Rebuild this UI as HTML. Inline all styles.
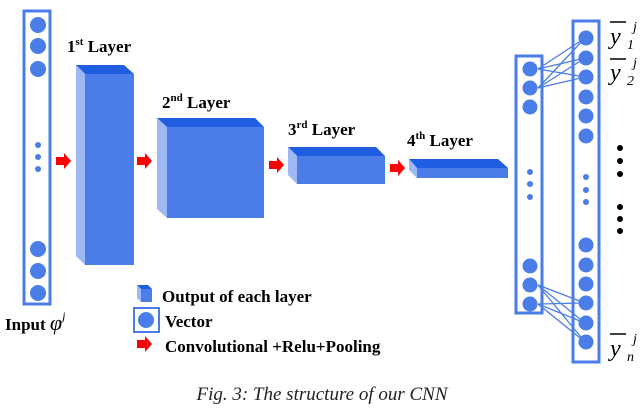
<!DOCTYPE html>
<html><head><style>body{margin:0;background:#fff}svg{display:block}</style></head><body>
<svg width="644" height="416" viewBox="0 0 644 416" xmlns="http://www.w3.org/2000/svg" font-family="Liberation Serif, serif">
<defs>
<g id="arr"><polygon points="0,-4 8,-4 8,-8 15,0 8,8 8,4 0,4" fill="#f00"/></g>
</defs>
<!-- input column -->
<rect x="24" y="11" width="26" height="293" fill="none" stroke="#4a7de8" stroke-width="3"/>
<g fill="#4a7de8">
<circle cx="38" cy="25" r="8"/><circle cx="38" cy="46" r="8"/><circle cx="38" cy="69" r="8"/>
<circle cx="38" cy="249" r="8"/><circle cx="38" cy="271" r="8"/><circle cx="38" cy="293" r="8"/>
<circle cx="38" cy="145" r="3"/><circle cx="38" cy="157" r="3"/><circle cx="38" cy="169" r="3"/>
</g>
<!-- arrows -->
<use href="#arr" x="56" y="161"/><use href="#arr" x="137" y="161"/><use href="#arr" x="269" y="165"/><use href="#arr" x="390" y="168"/>
<!-- layer 1 -->
<polygon points="76,65 124,65 134,74 85,74" fill="#1f5ee0"/>
<polygon points="76,65 85,74 85,265 76,256" fill="#9db8f2"/>
<rect x="85" y="74" width="49" height="191" fill="#4a7de8"/>
<!-- layer 2 -->
<polygon points="157,118 255,118 264,127 167,127" fill="#1f5ee0"/>
<polygon points="157,118 167,127 167,218 157,209" fill="#9db8f2"/>
<rect x="167" y="127" width="97" height="91" fill="#4a7de8"/>
<!-- layer 3 -->
<polygon points="288,147 376,147 385,156 297,156" fill="#1f5ee0"/>
<polygon points="288,147 297,156 297,184 288,175" fill="#9db8f2"/>
<rect x="297" y="156" width="88" height="28" fill="#4a7de8"/>
<!-- layer 4 -->
<polygon points="409,159 498,159 508,168 417,168" fill="#1f5ee0"/>
<polygon points="409,159 417,168 417,178 409,170" fill="#9db8f2"/>
<rect x="417" y="168" width="91" height="10" fill="#4a7de8"/>
<!-- labels -->
<g font-weight="bold" font-size="17" fill="#000">
<text x="67" y="52">1<tspan font-size="11" dy="-7">st</tspan><tspan dy="7"> Layer</tspan></text>
<text x="162" y="108">2<tspan font-size="11" dy="-7">nd</tspan><tspan dy="7">  Layer</tspan></text>
<text x="288" y="135">3<tspan font-size="11" dy="-7">rd</tspan><tspan dy="7">  Layer</tspan></text>
<text x="407" y="146">4<tspan font-size="11" dy="-7">th</tspan><tspan dy="7">  Layer</tspan></text>
<text x="5" y="330">Input <tspan font-style="italic" font-weight="normal" font-size="22">φ</tspan><tspan font-style="italic" font-weight="normal" font-size="12" dy="-10">j</tspan></text>
<text x="162" y="302">Output of each layer</text>
<text x="165" y="327">Vector</text>
<text x="165" y="352">Convolutional +Relu+Pooling</text>
</g>
<!-- legend icons -->
<polygon points="137,285 148,285 152,289 141,289" fill="#1f5ee0"/>
<polygon points="137,285 141,289 141,302 137,298" fill="#9db8f2"/>
<rect x="141" y="289" width="11" height="13" fill="#4a7de8"/>
<rect x="134" y="308" width="25" height="24" fill="none" stroke="#4a7de8" stroke-width="2"/>
<circle cx="146" cy="320" r="8" fill="#4a7de8"/>
<use href="#arr" x="137" y="344"/>
<!-- right columns -->
<rect x="516" y="56" width="26" height="257" fill="none" stroke="#4a7de8" stroke-width="3"/>
<rect x="573" y="21" width="26" height="341" fill="none" stroke="#4a7de8" stroke-width="3"/>
<g stroke="#4a7de8" stroke-width="1.3">
<line x1="538" y1="69" x2="585" y2="38"/><line x1="538" y1="69" x2="585" y2="58"/><line x1="538" y1="69" x2="585" y2="77"/>
<line x1="538" y1="88" x2="585" y2="38"/><line x1="538" y1="88" x2="585" y2="58"/><line x1="538" y1="88" x2="585" y2="77"/>
<line x1="538" y1="285" x2="585" y2="303"/><line x1="538" y1="285" x2="585" y2="323"/><line x1="538" y1="285" x2="585" y2="342"/>
<line x1="538" y1="304" x2="585" y2="303"/><line x1="538" y1="304" x2="585" y2="323"/><line x1="538" y1="304" x2="585" y2="342"/>
</g>
<g fill="#4a7de8">
<circle cx="530" cy="69" r="7.5"/><circle cx="530" cy="88" r="7.5"/><circle cx="530" cy="107" r="7.5"/>
<circle cx="530" cy="266" r="7.5"/><circle cx="530" cy="285" r="7.5"/><circle cx="530" cy="304" r="7.5"/>
<circle cx="530" cy="172" r="3"/><circle cx="530" cy="184" r="3"/><circle cx="530" cy="197" r="3"/>
<circle cx="586" cy="38" r="7.5"/><circle cx="586" cy="58" r="7.5"/><circle cx="586" cy="77" r="7.5"/><circle cx="586" cy="97" r="7.5"/><circle cx="586" cy="116" r="7.5"/><circle cx="586" cy="136" r="7.5"/>
<circle cx="586" cy="245" r="7.5"/><circle cx="586" cy="265" r="7.5"/><circle cx="586" cy="284" r="7.5"/><circle cx="586" cy="303" r="7.5"/><circle cx="586" cy="323" r="7.5"/><circle cx="586" cy="342" r="7.5"/>
<circle cx="586" cy="177" r="3"/><circle cx="586" cy="190" r="3"/><circle cx="586" cy="202" r="3"/>
</g>
<g fill="#000">
<circle cx="620" cy="148" r="3"/><circle cx="620" cy="161" r="3"/><circle cx="620" cy="174" r="3"/>
<circle cx="620" cy="207" r="3"/><circle cx="620" cy="219" r="3"/><circle cx="620" cy="231" r="3"/>
</g>
<g font-style="italic" fill="#000">
<line x1="610" y1="22" x2="626" y2="22" stroke="#000" stroke-width="1.5"/>
<text x="610" y="44" font-size="24">y</text><text x="627" y="49" font-size="14">1</text><text x="633" y="31" font-size="14">j</text>
<line x1="610" y1="59" x2="626" y2="59" stroke="#000" stroke-width="1.5"/>
<text x="610" y="80" font-size="24">y</text><text x="627" y="85" font-size="14">2</text><text x="633" y="67" font-size="14">j</text>
<line x1="610" y1="334" x2="626" y2="334" stroke="#000" stroke-width="1.5"/>
<text x="610" y="356" font-size="24">y</text><text x="627" y="361" font-size="14">n</text><text x="633" y="343" font-size="14">j</text>
</g>
<text x="322" y="400" font-size="19" font-style="italic" text-anchor="middle" fill="#222">Fig. 3: The structure of our CNN</text>
</svg>
</body></html>
